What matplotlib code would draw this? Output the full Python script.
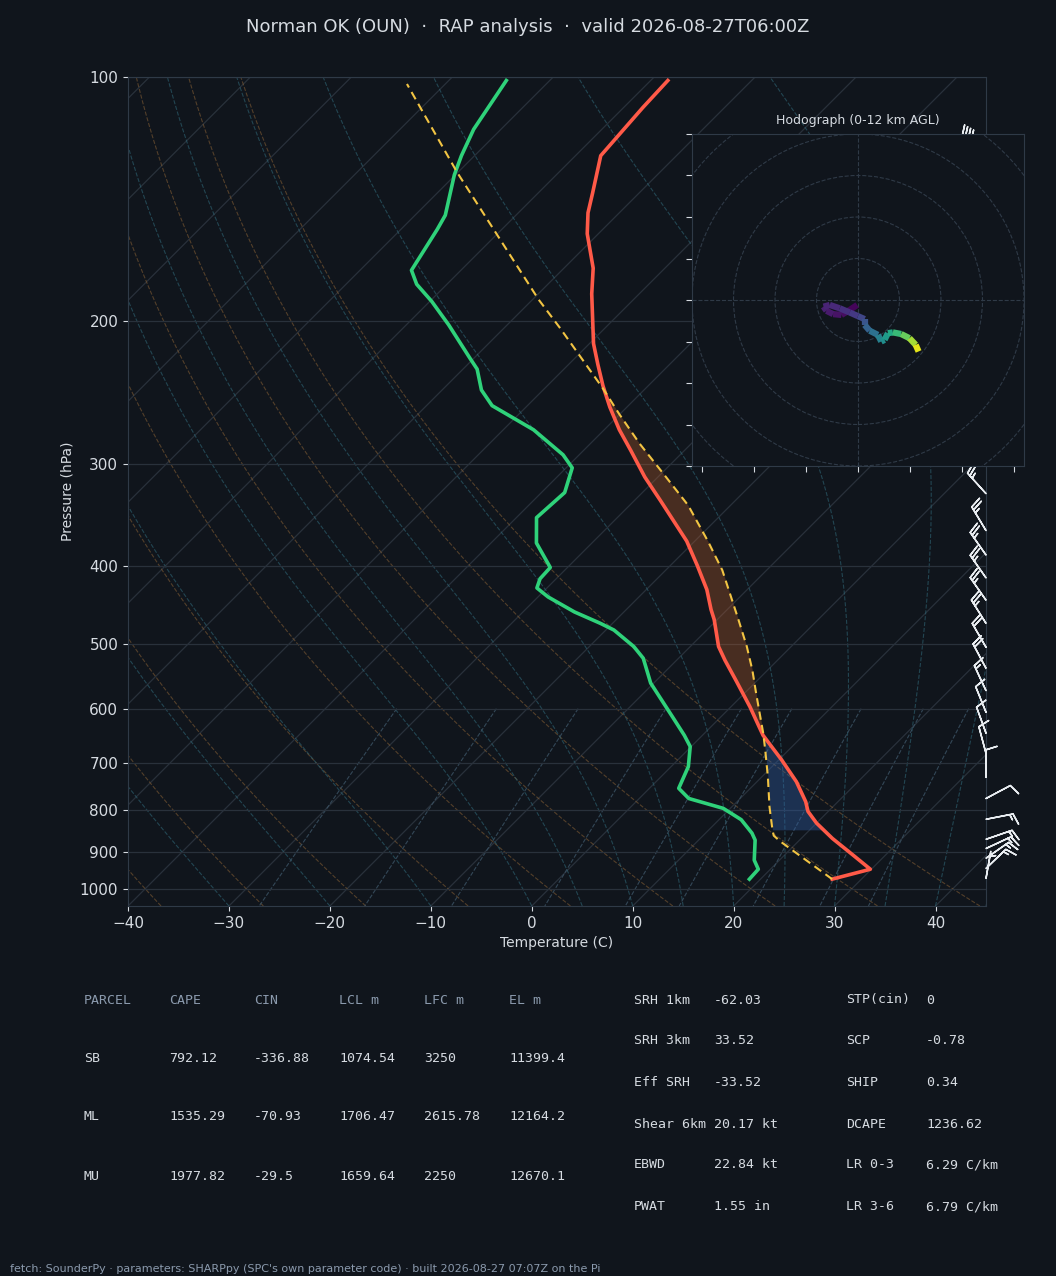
import numpy as np
import matplotlib
matplotlib.use('Agg')
import matplotlib.pyplot as plt
from matplotlib.transforms import Affine2D
from matplotlib.collections import LineCollection
from matplotlib.patches import Circle
from matplotlib.ticker import FixedLocator, FixedFormatter, NullLocator

# ---- sounding (hPa, degC) ----
p_temp = [973, 946, 909, 867, 830, 803, 781, 738, 694, 647, 597, 556, 523, 503,
          466, 453, 428, 400, 373, 332, 311, 288, 272, 255, 240, 226, 213, 185,
          172, 156, 147, 139, 125, 109, 101]
t_temp = [27.1, 29.9, 26.8, 23.1, 20.0, 18.0, 16.8, 13.9, 10.3, 6.0, 1.9, -1.9,
          -5.2, -7.2, -10.3, -11.6, -14.0, -17.3, -20.8, -27.5, -31.3, -35.4,
          -38.5, -41.7, -44.5, -47.1, -49.6, -54.7, -57.1, -61.1, -63.1, -64.6,
          -67.5, -68.1, -68.3]

p_dew = [973, 946, 922, 871, 854, 822, 796, 774, 752, 707, 668, 647, 614, 558,
         520, 503, 480, 471, 456, 437, 426, 415, 402, 375, 349, 325, 303, 292,
         272, 254, 243, 229, 222, 202, 189, 180, 173, 154, 148, 132, 125, 116, 101]
t_dew = [18.9, 18.8, 17.5, 15.6, 14.6, 12.2, 9.3, 4.9, 2.9, 1.7, -0.1, -1.8,
         -4.8, -10.3, -13.5, -15.6, -19.2, -21.2, -24.9, -29.0, -31.0, -31.6,
         -31.7, -35.5, -38.0, -37.7, -39.4, -41.6, -47.0, -53.5, -56.1, -58.6,
         -60.4, -65.8, -69.8, -73.0, -74.9, -76.4, -77.0, -80.1, -81.3, -82.7, -84.3]

p_parcel = [973, 874, 860, 846, 792, 728, 675, 643, 575, 538, 503, 466, 405,
            373, 337, 312, 283, 260, 242, 204, 188, 131, 102]
t_parcel = [27.1, 18.2, 17.0, 16.3, 13.7, 10.6, 7.7, 5.8, 1.2, -1.5, -4.4, -7.9,
            -14.4, -18.7, -24.2, -29.0, -35.1, -40.1, -44.2, -54.4, -59.4, -80.1, -93.8]

cin_top, cin_bot = 646, 846
cape_top, cape_bot = 241, 646

# wind barbs (kt)
barb_p = [123, 150, 175, 200, 225, 250, 275, 300, 326, 362, 388, 414, 441, 471,
          504, 535, 570, 606, 643, 681, 729, 774, 821, 869, 892, 917, 944, 971]
barb_dir = [300, 300, 305, 305, 310, 310, 315, 315, 318, 329, 325, 325, 325, 328,
            330, 332, 335, 338, 340, 345, 360, 62, 79, 71, 65, 55, 46, 10]
barb_spd = [40, 40, 35, 35, 35, 30, 30, 30, 25, 25, 25, 25, 25, 25,
            20, 20, 15, 10, 10, 10, 10, 10, 15, 15, 15, 15, 15, 5]

# hodograph trace (m/s) and height (km AGL)
hodo_z = [0.0, 0.3, 0.5, 0.7, 0.9, 1.1, 1.3, 1.5, 1.8, 2.2, 2.8, 3.4, 4.0, 4.8,
          5.6, 6.2, 6.8, 7.6, 8.6, 9.8, 11.0, 12.0]
hodo_u = [-0.2, -2.0, -4.0, -6.0, -7.6, -8.3, -6.8, -4.4, -2.0, 0.0, 1.6, 1.6,
          2.8, 4.8, 5.6, 6.4, 7.2, 8.4, 10.4, 12.4, 13.9, 14.6]
hodo_v = [-1.2, -2.4, -3.6, -3.4, -2.6, -1.6, -1.2, -2.0, -3.0, -3.9, -4.6, -6.0,
          -7.4, -8.4, -10.0, -9.6, -8.0, -7.8, -8.2, -9.2, -10.8, -12.4]

# parameter table
parcel_hdr = ['PARCEL', 'CAPE', 'CIN', 'LCL m', 'LFC m', 'EL m']
parcel_rows = [['SB', '792.12', '-336.88', '1074.54', '3250', '11399.4'],
               ['ML', '1535.29', '-70.93', '1706.47', '2615.78', '12164.2'],
               ['MU', '1977.82', '-29.5', '1659.64', '2250', '12670.1']]
idx_left = [('SRH 1km', '-62.03'), ('SRH 3km', '33.52'), ('Eff SRH', '-33.52'),
            ('Shear 6km', '20.17 kt'), ('EBWD', '22.84 kt'), ('PWAT', '1.55 in')]
idx_right = [('STP(cin)', '0'), ('SCP', '-0.78'), ('SHIP', '0.34'),
             ('DCAPE', '1236.62'), ('LR 0-3', '6.29 C/km'), ('LR 3-6', '6.79 C/km')]

BG = '#10151c'
SPINE = '#2f3a47'
GRID = '#29313b'
TXT = '#d6dbe1'
MUTED = '#8b9aad'

W, H = 1056, 1276
fig = plt.figure(figsize=(W / 100, H / 100), dpi=100, facecolor=BG)

def fx(x):
    return x / W

def fy(y):
    return 1 - y / H

ax_l, ax_r, ax_t, ax_b = 128, 986, 77, 906
ax = fig.add_axes([fx(ax_l), fy(ax_b), (ax_r - ax_l) / W, (ax_b - ax_t) / H], facecolor=BG)
ax.set_yscale('log')
ax.set_ylim(1050, 100)
ax.set_xlim(-40, 45)
# 45 degree skew in pixel space, anchored at the bottom of the axes
shear = np.arctan((ax_b - ax_t) / (ax_r - ax_l))
skew = ax.transScale + ax.transLimits + Affine2D().skew(shear, 0) + ax.transAxes

for s in ax.spines.values():
    s.set_color(SPINE)
ax.yaxis.set_major_locator(FixedLocator(np.arange(100, 1001, 100)))
ax.yaxis.set_major_formatter(FixedFormatter([str(v) for v in range(100, 1001, 100)]))
ax.yaxis.set_minor_locator(NullLocator())
ax.xaxis.set_major_locator(FixedLocator(np.arange(-40, 41, 10)))
ax.tick_params(colors=TXT, labelsize=11)
ax.yaxis.grid(True, color=GRID, lw=0.9)
ax.set_xlabel('Temperature (C)', color=TXT, fontsize=10)
ax.set_ylabel('Pressure (hPa)', color=TXT, fontsize=10)

# isotherms
for t in range(-160, 50, 10):
    ax.plot([t, t], [1050, 100], transform=skew, color=GRID, lw=0.9, zorder=1)

pres = np.geomspace(1050, 100, 200)

# dry adiabats
for t0 in np.arange(-40, 46, 10):
    th = (t0 + 273.15) * (pres / 1000.0) ** 0.2857
    ax.plot(th - 273.15, pres, transform=skew, color='#8a6236', lw=0.8,
            ls='--', alpha=0.55, zorder=1)

# moist adiabats
def moist_curve(t0):
    Rd, Cp, Lv, eps = 287.04, 1005.7, 2.501e6, 0.622

    def f(T, p):
        es = 6.112 * np.exp(17.67 * (T - 273.15) / (T - 29.65))
        rs = eps * es / (p - es)
        return (Rd * T + Lv * rs) / (Cp + Lv * Lv * rs * eps / (Rd * T * T)) / p

    T = t0 + 273.15
    out = [T]
    for i in range(1, len(pres)):
        dp = pres[i] - pres[i - 1]
        k1 = f(T, pres[i - 1])
        k2 = f(T + k1 * dp, pres[i])
        T = T + 0.5 * (k1 + k2) * dp
        out.append(T)
    return np.array(out) - 273.15

for t0 in list(range(-40, 0, 10)) + list(range(0, 46, 5)):
    ax.plot(moist_curve(t0), pres, transform=skew, color='#2f6676', lw=0.8,
            ls='--', alpha=0.6, zorder=1)

# mixing ratio lines
pm = np.linspace(600, 1050, 50)
for w in [0.0004, 0.001, 0.002, 0.004, 0.007, 0.01, 0.016, 0.024, 0.032]:
    e = pm * w / (0.622 + w)
    le = np.log(e / 6.112)
    td = 243.5 * le / (17.67 - le)
    ax.plot(td, pm, transform=skew, color='#3c5466', lw=0.8, ls='--',
            alpha=0.8, zorder=1)

# CAPE / CIN shading
def shade(p_lo, p_hi, color, alpha):
    pp = np.array(sorted(set([p for p in p_temp + p_parcel if p_lo <= p <= p_hi] + [p_lo, p_hi])))
    lp = np.log(pp)
    te = np.interp(lp, np.log(p_temp[::-1]), t_temp[::-1])
    tp = np.interp(lp, np.log(p_parcel[::-1]), t_parcel[::-1])
    ax.fill_betweenx(pp, te, tp, transform=skew, color=color, alpha=alpha,
                     lw=0, zorder=2)

shade(cape_top, cape_bot, '#c0602e', 0.32)
shade(cin_top, cin_bot, '#3060a8', 0.38)

ax.plot(t_temp, p_temp, transform=skew, color='#ff5a48', lw=2.6, zorder=4)
ax.plot(t_dew, p_dew, transform=skew, color='#2fd27a', lw=2.6, zorder=4)
ax.plot(t_parcel, p_parcel, transform=skew, color='#f2c443', lw=1.5,
        ls=(0, (4, 2.5)), zorder=5)

# barbs on the right edge
d = np.radians(barb_dir)
bu = -np.array(barb_spd) * np.sin(d)
bv = -np.array(barb_spd) * np.cos(d)
ax.barbs(np.ones(len(barb_p)), barb_p, bu, bv, transform=ax.get_yaxis_transform(),
         clip_on=False, length=6.3, color='#e8ecf0', lw=1.1, zorder=6)

# hodograph inset
hx = fig.add_axes([fx(692), fy(466), 332 / W, 332 / H], facecolor=BG)
hx.set_xlim(-40, 40)
hx.set_ylim(-40, 40)
for s in hx.spines.values():
    s.set_color(SPINE)
hx.set_xticks(np.arange(-37.5, 38, 12.5))
hx.set_yticks(np.arange(-40, 41, 10))
hx.tick_params(colors=TXT, labelbottom=False, labelleft=False, length=4)
for r in range(10, 70, 10):
    hx.add_patch(Circle((0, 0), r, fill=False, ls='--', color=SPINE, lw=0.8))
hx.axhline(0, color=SPINE, ls='--', lw=0.8)
hx.axvline(0, color=SPINE, ls='--', lw=0.8)
pts = np.column_stack([hodo_u, hodo_v])
segs = np.stack([pts[:-1], pts[1:]], axis=1)
zmid = 0.5 * (np.array(hodo_z[:-1]) + np.array(hodo_z[1:]))
lc = LineCollection(segs, cmap='viridis', linewidths=4.5)
lc.set_array(zmid)
lc.set_clim(0, 12)
hx.add_collection(lc)
hx.set_title('Hodograph (0-12 km AGL)', color=TXT, fontsize=9, pad=7)

# title
fig.text(0.5, fy(27), 'Norman OK (OUN)  \u00b7  RAP analysis  \u00b7  valid 2026-08-27T06:00Z',
         ha='center', va='center', color=TXT, fontsize=13)

# parameter table
mono = 'DejaVu Sans Mono'
col_x = [84, 169, 254, 339, 424, 509]
row_y = [1058, 1117, 1176]
for cx, h in zip(col_x, parcel_hdr):
    fig.text(fx(cx), fy(1000), h, family=mono, fontsize=9.5, color=MUTED, va='center')
for ry, row in zip(row_y, parcel_rows):
    for cx, v in zip(col_x, row):
        fig.text(fx(cx), fy(ry), v, family=mono, fontsize=9.5, color=TXT, va='center')

idx_y = [1000, 1041, 1083, 1124, 1165, 1207]
for ry, (a, b), (c, e) in zip(idx_y, idx_left, idx_right):
    fig.text(fx(634), fy(ry), a, family=mono, fontsize=9.5, color=TXT, va='center')
    fig.text(fx(714), fy(ry), b, family=mono, fontsize=9.5, color=TXT, va='center')
    fig.text(fx(846), fy(ry), c, family=mono, fontsize=9.5, color=TXT, va='center')
    fig.text(fx(926), fy(ry), e, family=mono, fontsize=9.5, color=TXT, va='center')

fig.text(fx(10), fy(1269), "fetch: SounderPy \u00b7 parameters: SHARPpy (SPC's own parameter code) "
         "\u00b7 built 2026-08-27 07:07Z on the Pi", fontsize=8, color=MUTED, va='center')

fig.savefig('out.png', dpi=100, facecolor=BG)
